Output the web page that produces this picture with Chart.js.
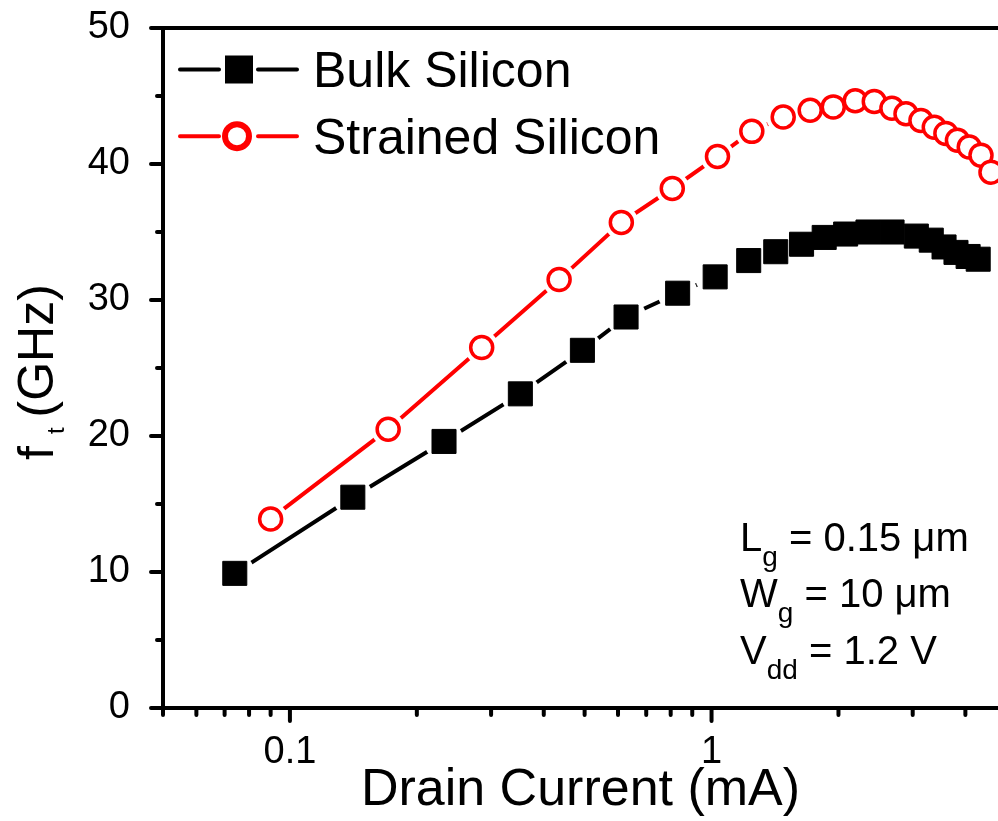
<!DOCTYPE html>
<html>
<head>
<meta charset="utf-8">
<script src="https://cdn.jsdelivr.net/npm/chart.js@4.4.1/dist/chart.umd.min.js"></script>
<style>
  html, body { margin: 0; padding: 0; background: #fff; overflow: hidden; }
</style>
</head>
<body>
<canvas id="ftchart" width="998" height="821" style="width:998px;height:821px"></canvas>
<script>
// drain current (mA) and cutoff frequency (GHz)
const bulkCurrent = [0.074, 0.141, 0.232, 0.352, 0.494, 0.627, 0.831, 1.02, 1.225, 1.42,
  1.635, 1.85, 2.08, 2.35, 2.68, 3.06, 3.32, 3.56, 3.80, 4.06, 4.29];
const bulkFt = [9.9, 15.5, 19.6, 23.1, 26.3, 28.75, 30.5, 31.7, 32.9, 33.55,
  34.1, 34.6, 34.85, 35.0, 35.0, 34.7, 34.4, 33.9, 33.5, 33.2, 33.0];

const strainedCurrent = [0.090, 0.171, 0.285, 0.435, 0.611, 0.807, 1.033, 1.246, 1.479, 1.714,
  1.944, 2.192, 2.432, 2.678, 2.892, 3.138, 3.375, 3.596, 3.83, 4.085, 4.356, 4.60];
const strainedFt = [13.9, 20.5, 26.5, 31.5, 35.7, 38.2, 40.55, 42.4, 43.45, 43.95,
  44.2, 44.65, 44.6, 44.1, 43.7, 43.2, 42.7, 42.25, 41.75, 41.25, 40.65, 39.4];

const seriesNames = ['Bulk Silicon', 'Strained Silicon'];
const xTickLabels = ['0.1', '1'];
const yTickLabels = ['0', '10', '20', '30', '40', '50'];
const noteLines = [['L', 'g', ' = 0.15 \u03BCm'], ['W', 'g', ' = 10 \u03BCm'], ['V', 'dd', ' = 1.2 V']];

const FONT = 'Arial, "Liberation Sans", sans-serif';
Chart.defaults.font.family = FONT;
Chart.defaults.color = '#000';

const toPoints = (xs, ys) => xs.map((x, i) => ({x: x, y: ys[i]}));

const series = [
  {name: seriesNames[0], data: toPoints(bulkCurrent, bulkFt), color: '#000', style: 'rect',
    radius: 17, fill: '#000', edge: 1, halo: 20},
  {name: seriesNames[1], data: toPoints(strainedCurrent, strainedFt), color: '#ff0000', style: 'circle',
    radius: 11, fill: '#fff', edge: 3.5, halo: 17}
];

// Origin look: connecting line, a white halo that opens a gap round each marker, then the marker
const datasets = [];
series.forEach(s => {
  datasets.push({
    label: s.name + ' line', data: s.data, order: 3,
    borderColor: s.color, borderWidth: 4, pointRadius: 0, tension: 0
  });
  datasets.push({
    label: s.name + ' gap', data: s.data, order: 2, showLine: false,
    pointStyle: 'circle', pointRadius: s.halo, pointBackgroundColor: '#fff', pointBorderWidth: 0
  });
  datasets.push({
    label: s.name, data: s.data, order: 1, showLine: false,
    pointStyle: s.style, pointRadius: s.radius, pointBackgroundColor: s.fill,
    pointBorderColor: s.color, pointBorderWidth: s.edge
  });
});

const noPad = s => { s.paddingTop = 0; s.paddingBottom = 0; s.paddingLeft = 0; s.paddingRight = 0; };

const axisTicks = {
  id: 'axisTicks',
  afterDraw(chart) {
    const {ctx, chartArea: a, scales: {x, y}} = chart;
    ctx.save();
    ctx.strokeStyle = '#000';
    ctx.lineWidth = 4;
    ctx.beginPath();
    ctx.moveTo(a.left - 2, a.top);
    ctx.lineTo(a.right, a.top);
    ctx.stroke();
    ctx.lineCap = 'round';
    ctx.beginPath();
    y.ticks.forEach(t => {
      const py = y.getPixelForValue(t.value);
      const len = t.value % 10 === 0 ? 12 : 6;
      ctx.moveTo(a.left, py);
      ctx.lineTo(a.left - len, py);
    });
    x.ticks.forEach(t => {
      const e = Math.floor(Math.log10(t.value) + 1e-9);
      const m = t.value / Math.pow(10, e);
      if (Math.abs(m - Math.round(m)) > 1e-6) return;
      const px = x.getPixelForValue(t.value);
      if (px > a.right) return;
      const len = Math.round(m) === 1 ? 13 : 7;
      ctx.moveTo(px, a.bottom);
      ctx.lineTo(px, a.bottom + len);
    });
    ctx.stroke();
    ctx.restore();
  }
};

// legend in Origin style: line - marker - line, then the label
const frameLegend = {
  id: 'frameLegend',
  afterDraw(chart) {
    const ctx = chart.ctx;
    ctx.save();
    series.forEach((s, i) => {
      const cy = 69.5 + i * 66.7;
      ctx.strokeStyle = s.color;
      ctx.lineWidth = 4;
      ctx.lineCap = 'round';
      ctx.beginPath();
      ctx.moveTo(180, cy); ctx.lineTo(219, cy);
      ctx.moveTo(258, cy); ctx.lineTo(297, cy);
      ctx.stroke();
      if (s.style === 'rect') {
        ctx.fillStyle = s.fill;
        ctx.fillRect(239 - 14, cy - 14, 28, 28);
      } else {
        ctx.lineWidth = 6;
        ctx.fillStyle = s.fill;
        ctx.beginPath();
        ctx.arc(237, cy, 12, 0, Math.PI * 2);
        ctx.fill();
        ctx.stroke();
      }
      ctx.fillStyle = '#000';
      ctx.font = '50px ' + FONT;
      ctx.textBaseline = 'alphabetic';
      ctx.fillText(s.name, 313, cy + 17.5);
    });
    ctx.restore();
  }
};

function drawSubText(ctx, x, y, main, sub, rest, size, subSize, drop, gap) {
  ctx.font = size + 'px ' + FONT;
  ctx.fillText(main, x, y);
  x += ctx.measureText(main).width + (gap ? gap[0] : 0);
  ctx.font = subSize + 'px ' + FONT;
  ctx.fillText(sub, x, y + drop);
  x += ctx.measureText(sub).width + (gap ? gap[1] : 0);
  ctx.font = size + 'px ' + FONT;
  ctx.fillText(rest, x, y);
}

const textBits = {
  id: 'textBits',
  afterDraw(chart) {
    const ctx = chart.ctx;
    ctx.save();
    ctx.fillStyle = '#000';
    ctx.textBaseline = 'alphabetic';
    ctx.textAlign = 'left';
    noteLines.forEach((ln, i) => {
      drawSubText(ctx, 740, 551 + i * 56.3, ln[0], ln[1], ln[2], 40, 28, 15);
    });
    // y axis title f_t (GHz)
    ctx.translate(53, 460);
    ctx.rotate(-Math.PI / 2);
    drawSubText(ctx, 0, 0, 'f', 't', '(GHz)', 50, 24, 11, [12, 10]);
    ctx.restore();
  }
};

new Chart(document.getElementById('ftchart'), {
  type: 'line',
  data: {datasets: datasets},
  options: {
    responsive: false,
    animation: false,
    events: [],
    layout: {autoPadding: false, padding: {top: 28, right: 0, left: 0, bottom: 0}},
    plugins: {
      tooltip: {enabled: false},
      legend: {display: false}
    },
    scales: {
      x: {
        type: 'logarithmic',
        min: 0.05,
        max: 4.78,
        afterFit: s => { s.height = 113; noPad(s); },
        grid: {display: false, drawTicks: false},
        border: {display: true, color: '#000', width: 4},
        ticks: {
          autoSkip: false,
          maxRotation: 0,
          padding: 22,
          font: {size: 38},
          color: '#000',
          callback: v => {
            const s = String(Number(v.toPrecision(6)));
            return xTickLabels.includes(s) ? s : '';
          }
        },
        title: {
          display: true,
          text: 'Drain Current (mA)',
          color: '#000',
          font: {size: 52, lineHeight: 1},
          padding: {top: 0, bottom: 4}
        }
      },
      y: {
        min: 0,
        max: 50,
        afterFit: s => { s.width = 163; noPad(s); },
        grid: {display: false, drawTicks: false},
        border: {display: true, color: '#000', width: 4},
        ticks: {
          stepSize: 5,
          autoSkip: false,
          padding: 33,
          font: {size: 38},
          color: '#000',
          callback: v => yTickLabels.includes(String(v)) ? String(v) : ''
        }
      }
    }
  },
  plugins: [axisTicks, frameLegend, textBits]
});
</script>
</body>
</html>
